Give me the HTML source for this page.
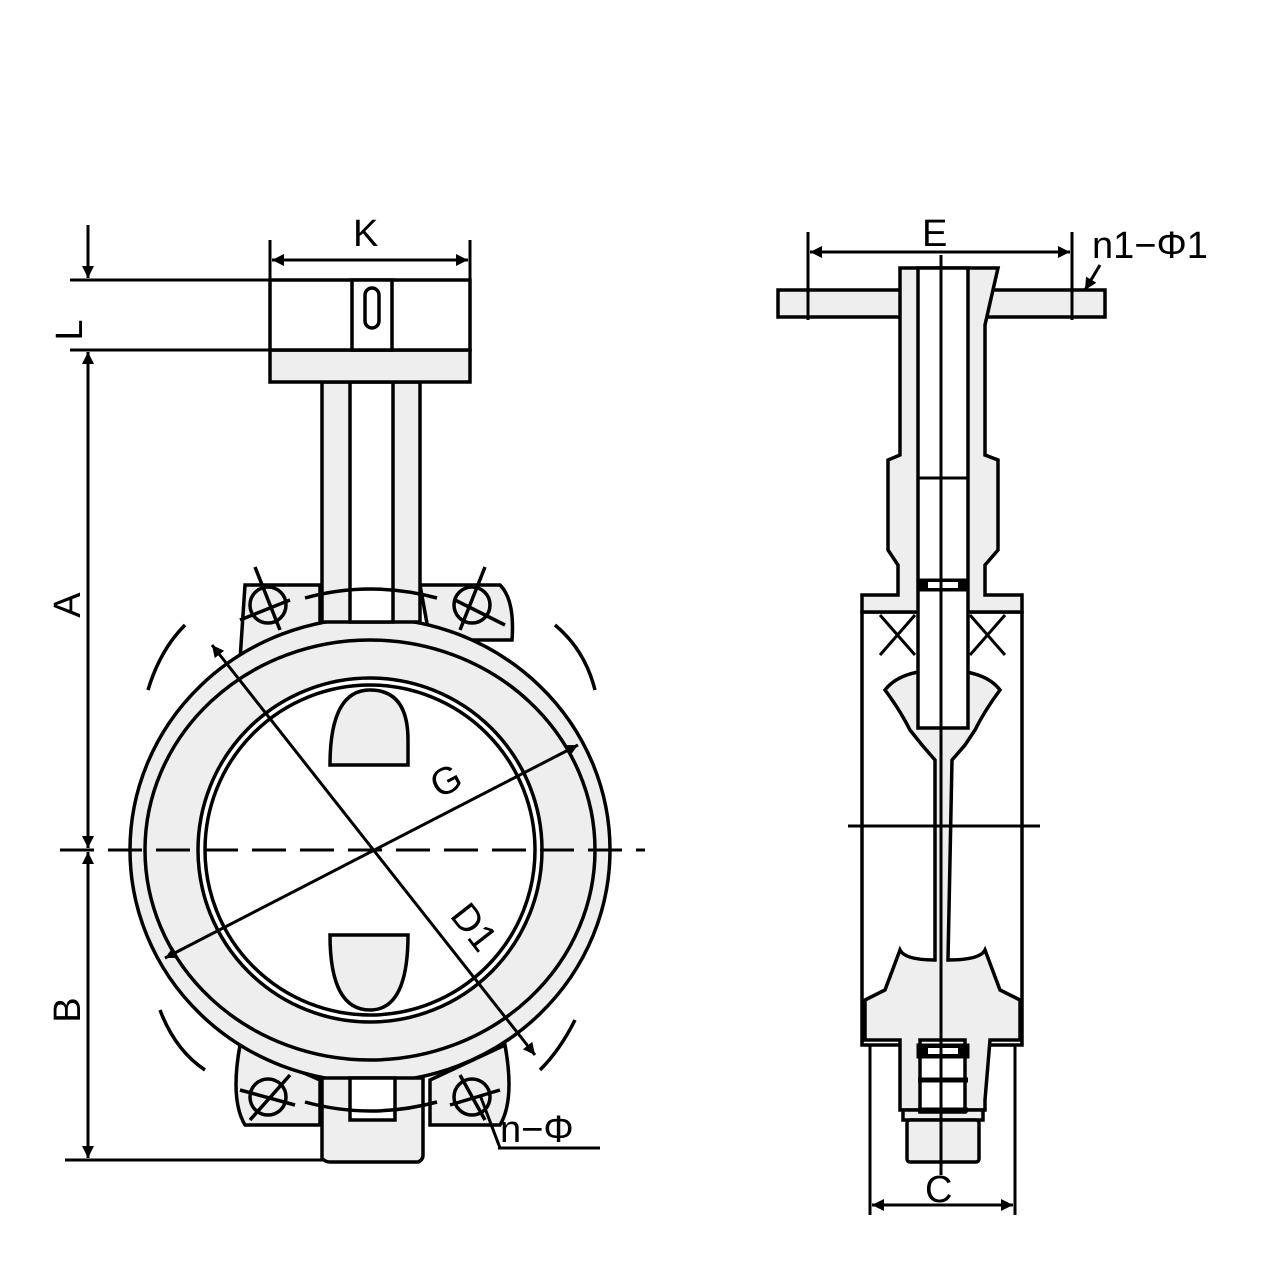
<!DOCTYPE html>
<html><head><style>html,body{margin:0;padding:0;background:#fff}svg{display:block}</style></head>
<body>
<svg width="1281" height="1281" viewBox="0 0 1281 1281" xmlns="http://www.w3.org/2000/svg" font-family="Liberation Sans, sans-serif">
<defs><marker id="a" viewBox="0 0 10 10" refX="10" refY="5" markerWidth="20" markerHeight="12" orient="auto-start-reverse" markerUnits="userSpaceOnUse"><path d="M0,0L10,5L0,10z" fill="#000"/></marker></defs>
<g stroke="#000" stroke-width="3.5" fill="#eeeeee">
<path d="M245,585 L320,585 L320,640 L240,660 Z" />
<path d="M420,585 L500,585 Q515,600 512,640 L430,640 Z"/>
<path d="M240,1045 Q230,1100 245,1125 L320,1125 L320,1080 Z"/>
<path d="M430,1080 L430,1125 L500,1125 Q515,1100 505,1045 Z"/>
<ellipse cx="370" cy="850" rx="240" ry="232"/>
<ellipse cx="370" cy="850" rx="225" ry="210" fill="none"/>
<circle cx="370" cy="850" r="172" fill="#fff"/>
<circle cx="370" cy="850" r="165" fill="none"/>
<path d="M322,382 L322,622 L420,622 L420,382 Z"/>
<rect x="350" y="382" width="43" height="240" fill="#fff"/>
<rect x="270" y="350" width="200" height="32"/>
<rect x="270" y="280" width="200" height="70" fill="#fff"/>
<rect x="352" y="280" width="40" height="70" fill="#fff"/>
<rect x="365" y="288" width="14" height="40" rx="7" fill="#fff"/>
<path d="M322,1078 L322,1158 Q325,1162 330,1162 L418,1162 Q423,1160 423,1155 L423,1078 Z"/>
<rect x="350" y="1078" width="45" height="42" fill="#fff"/>
<path d="M330,765 Q330,690 370,690 Q408,690 408,740 L408,765 Z" />
<path d="M330,935 L408,935 Q408,1010 370,1010 Q330,1010 330,935 Z"/>
<g fill="none">
<circle cx="268" cy="605" r="18"/><circle cx="472" cy="605" r="18"/>
<circle cx="268" cy="1097" r="18"/><circle cx="472" cy="1097" r="18"/>
<path d="M255,567L280,630M240,620L290,600M460,630L485,567M455,600L505,625M250,1120L290,1075M240,1090L295,1105M460,1075L485,1120M450,1105L500,1090"/>
<path d="M305,598 Q370,580 437,598"/>
<path d="M305,1102 Q370,1120 437,1102"/>
<path d="M185,625 Q160,650 148,690"/><path d="M555,625 Q585,650 595,690"/>
<path d="M160,1010 Q175,1050 205,1070"/><path d="M575,1020 Q560,1050 540,1070"/>
</g>
</g>
<g stroke="#000" stroke-width="3" fill="none">
<line x1="60" y1="850" x2="645" y2="850" stroke-dasharray="34,14"/>
<line x1="212" y1="645" x2="535" y2="1055" marker-start="url(#a)" marker-end="url(#a)"/>
<line x1="578" y1="745" x2="165" y2="958" marker-start="url(#a)" marker-end="url(#a)"/>
<line x1="480" y1="1095" x2="500" y2="1148"/><line x1="498" y1="1148" x2="600" y2="1148"/>
<line x1="270" y1="240" x2="270" y2="282"/><line x1="470" y1="240" x2="470" y2="282"/>
<line x1="272" y1="260" x2="468" y2="260" marker-start="url(#a)" marker-end="url(#a)"/>
<line x1="70" y1="280" x2="272" y2="280"/><line x1="70" y1="350" x2="272" y2="350"/>
<line x1="88" y1="225" x2="88" y2="278" marker-end="url(#a)"/>
<line x1="88" y1="352" x2="88" y2="848" marker-start="url(#a)" marker-end="url(#a)"/>
<line x1="88" y1="852" x2="88" y2="1158" marker-start="url(#a)" marker-end="url(#a)"/>
<line x1="65" y1="1160" x2="325" y2="1160"/>
</g>
<g font-size="38" fill="#000">
<text x="353" y="246">K</text>
<text x="82" y="330" transform="rotate(-90 82 330)" text-anchor="middle">L</text>
<text x="80" y="605" transform="rotate(-90 80 605)" text-anchor="middle">A</text>
<text x="80" y="1010" transform="rotate(-90 80 1010)" text-anchor="middle">B</text>
<text x="452" y="792" transform="rotate(-28 452 792)" text-anchor="middle">G</text>
<text x="464" y="935" transform="rotate(52 464 935)" text-anchor="middle">D1</text>
<text x="500" y="1142">n−Φ</text>
<text x="922" y="246">E</text>
<text x="1092" y="258">n1−Φ1</text>
<text x="925" y="1202">C</text>
</g>
<g stroke="#000" stroke-width="3.5" fill="#eeeeee">
<rect x="778" y="290" width="327" height="27"/>
<path d="M862,612 L1022,612 L1022,1045 L862,1045 Z" fill="#fff"/>
<path d="M900,268 L998,268 L985,325 L985,455 L998,460 L998,550 L985,565 L985,595 L1022,595 L1022,612 L862,612 L862,595 L898,595 L898,565 L888,550 L888,460 L900,455 L900,325 Z"/>
<path d="M885,690 Q900,670 942,670 Q985,670 1000,690 Q985,710 975,730 L965,745 L952,760 L948,960 Q980,960 985,950 L1000,990 L1020,1000 L1020,1040 L990,1040 L985,1100 L985,1110 L900,1110 L900,1040 L865,1040 L865,1000 L885,990 L900,950 Q905,960 935,960 L935,760 L922,745 L910,730 Q900,710 885,690 Z"/>
<rect x="903" y="1110" width="80" height="10"/>
<rect x="907" y="1120" width="72" height="42" rx="3"/>
<rect x="918" y="268" width="50" height="460" fill="#fff"/>
<rect x="920" y="1040" width="45" height="72" fill="#fff"/>
</g>
<g stroke="#000" stroke-width="3" fill="none">
<path d="M880,615L915,655M880,655L915,615M970,615L1005,655M970,655L1005,615"/>
<line x1="918" y1="478" x2="968" y2="478"/>
<rect x="918" y="580" width="50" height="10" fill="#000"/><rect x="928" y="582" width="30" height="6" fill="#fff" stroke="none"/>
<rect x="918" y="1045" width="50" height="12" fill="#000"/><rect x="928" y="1048" width="30" height="6" fill="#fff" stroke="none"/>
<line x1="918" y1="1080" x2="968" y2="1080" stroke-width="5"/>
<line x1="918" y1="1110" x2="968" y2="1110" stroke-width="5"/>
<line x1="941" y1="255" x2="941" y2="1175"/>
<line x1="848" y1="826" x2="1040" y2="826"/>
<line x1="808" y1="232" x2="808" y2="320"/><line x1="1072" y1="232" x2="1072" y2="320"/>
<line x1="810" y1="252" x2="1070" y2="252" marker-start="url(#a)" marker-end="url(#a)"/>
<line x1="1100" y1="265" x2="1085" y2="290" marker-end="url(#a)"/>
<line x1="870" y1="1045" x2="870" y2="1215"/><line x1="1015" y1="1045" x2="1015" y2="1215"/>
<line x1="872" y1="1205" x2="1013" y2="1205" marker-start="url(#a)" marker-end="url(#a)"/>
</g>
</svg>
</body></html>
